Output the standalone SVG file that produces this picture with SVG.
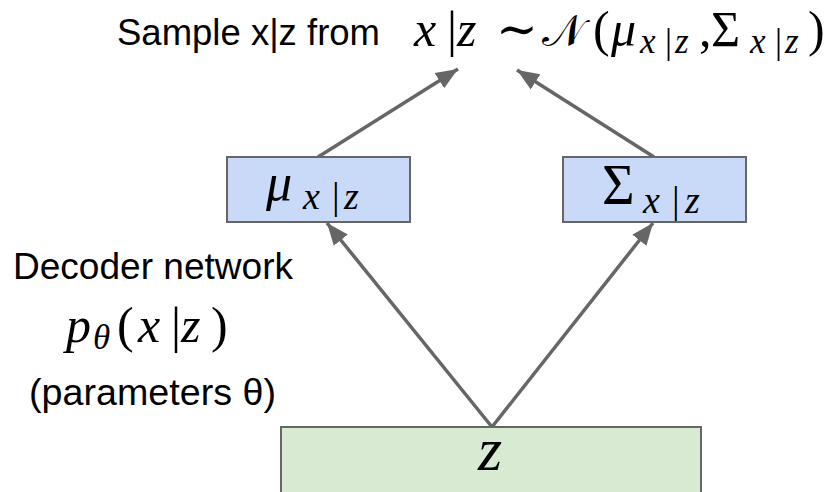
<svg xmlns="http://www.w3.org/2000/svg" width="829" height="492" viewBox="0 0 829 492">
<defs>
<style>
.lbl{font-family:"Liberation Sans",Arial,sans-serif;font-size:37px;fill:#000}
.m{font-family:"Liberation Serif","DejaVu Serif",serif;font-style:italic;fill:#000}
.r{font-family:"Liberation Serif","DejaVu Serif",serif;font-style:normal;fill:#000}
.cal{font-family:"DejaVu Sans","DejaVu Serif","Noto Sans",serif;font-style:normal;fill:#000}
.box{stroke:#666;stroke-width:2}
.con{stroke:#666;stroke-width:3.5;fill:none}
</style>
<marker id="ah" markerUnits="userSpaceOnUse" markerWidth="24" markerHeight="20" refX="22" refY="10" orient="auto">
<path d="M0,1 L22,10 L0,19 Z" fill="#666"/>
</marker>
</defs>
<rect width="829" height="492" fill="#fff"/>
<g id="title">
<text class="lbl" x="117" y="45" textLength="263" lengthAdjust="spacingAndGlyphs">Sample x|z from</text>
<text font-size="50" y="46"><tspan class="m" x="414">x</tspan><tspan class="r" x="447">|</tspan><tspan class="m" x="457">z</tspan><tspan class="r" x="496">∼</tspan><tspan class="cal" x="542" font-size="44">𝒩</tspan><tspan class="r" x="593">(</tspan><tspan class="m" x="611">μ</tspan><tspan class="m" x="640" y="53" font-size="35">x</tspan><tspan class="r" x="665" y="53" font-size="35">|</tspan><tspan class="m" x="675" y="53" font-size="35">z</tspan><tspan class="r" x="699" y="46">,</tspan><tspan class="r" x="711">Σ</tspan><tspan class="m" x="750" y="53" font-size="35">x</tspan><tspan class="r" x="775" y="53" font-size="35">|</tspan><tspan class="m" x="785" y="53" font-size="35">z</tspan><tspan class="r" x="808" y="46">)</tspan></text>
</g>
<g id="connectors">
<line class="con" x1="318" y1="157" x2="458" y2="69" marker-end="url(#ah)"/>
<line class="con" x1="654" y1="157" x2="517" y2="70" marker-end="url(#ah)"/>
<line class="con" x1="492" y1="427" x2="327" y2="223" marker-end="url(#ah)"/>
<line class="con" x1="492" y1="427" x2="653" y2="223" marker-end="url(#ah)"/>
</g>
<g id="mu">
<rect class="box" x="227" y="157" width="183" height="65" fill="#c9daf8"/>
<text font-size="52" y="200"><tspan class="m" x="266">μ</tspan><tspan class="m" x="303" y="209" font-size="38">x</tspan><tspan class="r" x="332" font-size="38">|</tspan><tspan class="m" x="344" font-size="38">z</tspan></text>
</g>
<g id="sigma">
<rect class="box" x="563" y="157" width="183" height="65" fill="#c9daf8"/>
<text font-size="56" y="204"><tspan class="r" x="602">Σ</tspan><tspan class="m" x="643" y="213" font-size="38">x</tspan><tspan class="r" x="672" font-size="38">|</tspan><tspan class="m" x="685" font-size="38">z</tspan></text>
</g>
<g id="decoder">
<text class="lbl" x="13" y="279" textLength="280" lengthAdjust="spacingAndGlyphs">Decoder network</text>
<text font-size="50" y="342"><tspan class="m" x="66">p</tspan><tspan class="m" x="93" y="349" font-size="35">θ</tspan><tspan class="r" x="117" y="342">(</tspan><tspan class="m" x="138">x</tspan><tspan class="r" x="171">|</tspan><tspan class="m" x="181">z</tspan><tspan class="r" x="211">)</tspan></text>
<text class="lbl" x="29" y="405" textLength="247" lengthAdjust="spacingAndGlyphs">(parameters θ)</text>
</g>
<g id="z">
<rect class="box" x="281" y="427" width="420" height="70" fill="#d9ead3"/>
<text class="m" font-size="62" x="478" y="470">z</text>
</g>
</svg>
